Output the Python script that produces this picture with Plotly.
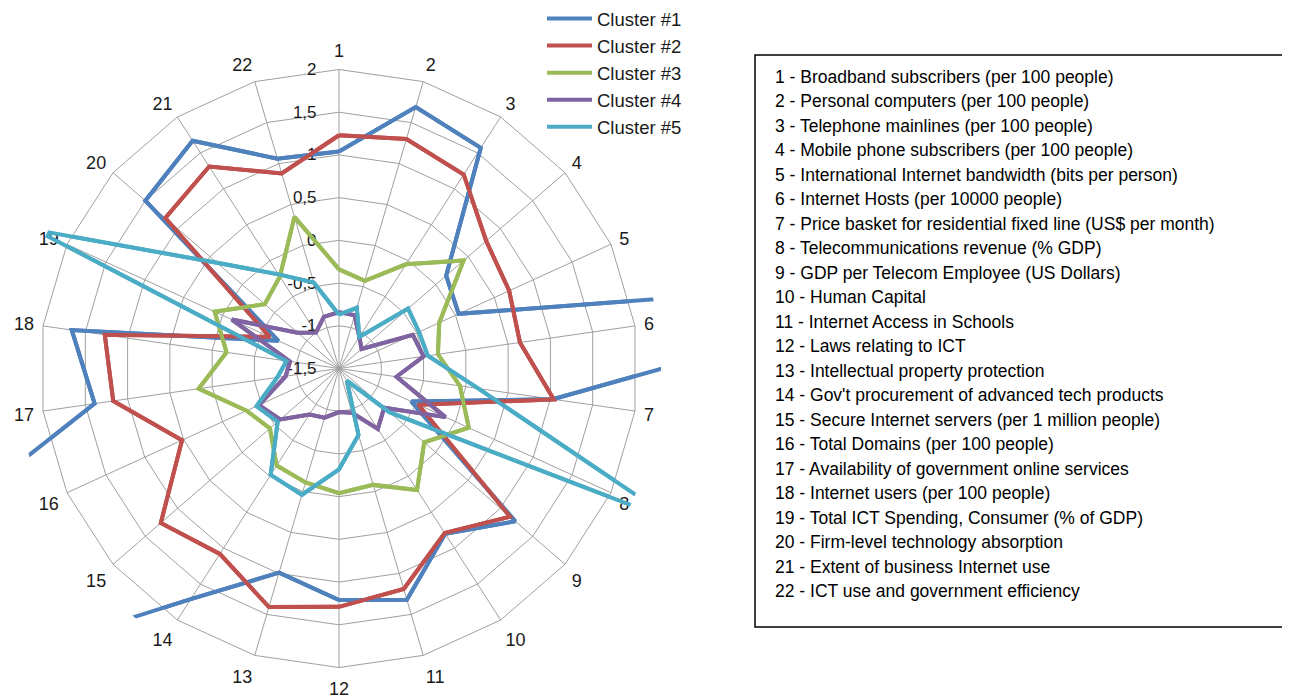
import plotly.graph_objects as go

# ---------------- data ----------------
categories = [str(i) for i in range(1, 23)]

cluster1 = [1.04, 1.69, 1.57, 0.16, 0.04, 6.3, 1.03, -0.57, 1.23, 0.80, 1.32,
            1.21, 0.99, 1.71, 3.67, 4.64, 1.39, 1.66, -0.72, 1.50, 1.67, 1.06]
cluster2 = [1.23, 1.30, 1.20, 0.78, 0.69, 0.64, 1.04, -0.48, 1.15, 0.79, 1.19,
            1.29, 1.41, 1.08, 1.26, 0.52, 1.17, 1.27, -0.61, 1.19, 1.31, 0.88]
cluster3 = [-0.34, -0.43, -0.05, 0.43, -0.21, -0.33, -0.07, 0.17, -0.18, 0.19, -0.08,
            -0.04, -0.11, -0.15, -0.43, -0.31, 0.16, -0.17, 0.10, -0.35, -0.22, 0.35]
cluster4 = [-0.84, -0.85, -1.06, -1.15, -0.55, -0.50, -0.82, -0.13, -0.80, -0.66, -0.96,
            -0.99, -0.90, -0.86, -0.59, -0.47, -0.87, -0.92, -0.12, -0.86, -1.00, -0.87]
cluster5 = [-0.87, -0.76, -1.06, -0.43, -0.47, -0.45, 0.15, 2.85, -0.72, -1.33, -0.69,
            -0.32, 0.04, -0.02, -0.55, -0.44, -0.77, -0.88, 2.40, 0.39, -0.19, -0.45]

series_names = ["Cluster #1", "Cluster #2", "Cluster #3", "Cluster #4", "Cluster #5"]
series_values = [cluster1, cluster2, cluster3, cluster4, cluster5]
colors = ["#4F81BD", "#C0504D", "#9BBB59", "#8064A2", "#4BACC6"]

radial_tickvals = [-1.5, -1, -0.5, 0, 0.5, 1, 1.5, 2]
radial_ticktext = ["-1,5", "-1", "-0,5", "0", "0,5", "1", "1,5", "2"]
r_min, r_max = -1.5, 2

descriptions = [
    "1 - Broadband subscribers (per 100 people)",
    "2 - Personal computers (per 100 people)",
    "3 - Telephone mainlines (per 100 people)",
    "4 - Mobile phone subscribers (per 100 people)",
    "5 - International Internet bandwidth (bits per person)",
    "6 - Internet Hosts (per 10000 people)",
    "7 - Price basket for residential fixed line (US$ per month)",
    "8 - Telecommunications revenue (% GDP)",
    "9 - GDP per Telecom Employee (US Dollars)",
    "10 - Human Capital",
    "11 - Internet Access in Schools",
    "12 - Laws relating to ICT",
    "13 - Intellectual property protection",
    "14 - Gov't procurement of advanced tech products",
    "15 - Secure Internet servers (per 1 million people)",
    "16 - Total Domains (per 100 people)",
    "17 - Availability of government online services",
    "18 - Internet users (per 100 people)",
    "19 - Total ICT Spending, Consumer (% of GDP)",
    "20 - Firm-level technology absorption",
    "21 - Extent of business Internet use",
    "22 - ICT use and government efficiency",
]

# ---------------- layout helpers ----------------
# the page places the figure 8 px in from the window's top-left corner
OFF = 8
W, H = 1290 - OFF, 699 - OFF
FONT = "Liberation Sans, Arial, sans-serif"
GRID = "#A0A0A0"

def px_x(x):
    return (x - OFF) / W

def px_y(y):
    return 1 - (y - OFF) / H

cx, cy, R = 339, 368.5, 299      # grid subplot (centre and outer ring radius)
R2 = 322                          # wider, invisible subplot for the series so
                                  # out-of-range values run past the outer ring
r_max2 = r_min + (r_max - r_min) * R2 / R

fig = go.Figure()
# series on the grid subplot (clipped at the outer ring) ...
for name, vals, col in zip(series_names, series_values, colors):
    fig.add_trace(go.Scatterpolar(
        r=vals + [vals[0]],
        theta=categories + [categories[0]],
        mode="lines",
        name=name,
        line=dict(color=col, width=4),
        subplot="polar",
        showlegend=False,
        hoverinfo="skip",
    ))
# ... and the same series on the overlaid, wider subplot (runs past the ring)
for name, vals, col in zip(series_names, series_values, colors):
    fig.add_trace(go.Scatterpolar(
        r=vals + [vals[0]],
        theta=categories + [categories[0]],
        mode="lines",
        name=name,
        line=dict(color=col, width=4),
        subplot="polar2",
    ))

hidden_angular = dict(direction="clockwise", rotation=90, type="category",
                      categoryorder="array", categoryarray=categories,
                      showgrid=False, showline=False, showticklabels=False, ticks="")
hidden_radial = dict(range=[r_min, r_max2], autorange=False, showgrid=False,
                     showline=False, showticklabels=False, ticks="")

fig.update_layout(
    width=W, height=H,
    margin=dict(l=0, r=0, t=0, b=0, autoexpand=False),
    paper_bgcolor="white",
    font=dict(family=FONT, color="#1a1a1a"),
    polar=dict(
        domain=dict(x=[px_x(cx - R), px_x(cx + R)], y=[px_y(cy + R), px_y(cy - R)]),
        bgcolor="white",
        gridshape="linear",
        angularaxis=dict(
            direction="clockwise",
            rotation=90,
            type="category",
            categoryorder="array",
            categoryarray=categories,
            showgrid=True, gridcolor=GRID, gridwidth=1,
            showline=True, linecolor=GRID, linewidth=1,
            ticks="outside", ticklen=5, tickcolor="rgba(0,0,0,0)",
            tickfont=dict(size=18, family=FONT, color="#1a1a1a"),
        ),
        radialaxis=dict(
            range=[r_min, r_max],
            autorange=False,
            angle=90,
            side="counterclockwise",
            tickmode="array",
            tickvals=radial_tickvals,
            ticktext=radial_ticktext,
            showgrid=True, gridcolor=GRID, gridwidth=1,
            showline=False,
            ticks="outside", ticklen=16, tickcolor="rgba(0,0,0,0)",
            tickangle=90,
            tickfont=dict(size=17, family=FONT, color="#1a1a1a"),
        ),
    ),
    polar2=dict(
        domain=dict(x=[px_x(cx - R2), px_x(cx + R2)], y=[px_y(cy + R2), px_y(cy - R2)]),
        bgcolor="rgba(0,0,0,0)",
        gridshape="circular",
        angularaxis=hidden_angular,
        radialaxis=hidden_radial,
    ),
    showlegend=True,
    legend=dict(
        x=px_x(542), y=px_y(0), xanchor="left", yanchor="top",
        font=dict(size=18.5, family=FONT, color="#1a1a1a"),
        bgcolor="rgba(0,0,0,0)",
        itemwidth=45,
        tracegroupgap=0,
    ),
)

# text box with descriptions
fig.add_shape(type="rect", xref="paper", yref="paper",
              x0=px_x(755), x1=px_x(1288), y0=px_y(627), y1=px_y(55),
              line=dict(color="#000000", width=1.5), fillcolor="rgba(0,0,0,0)")
line_step = 24.48
for i, txt in enumerate(descriptions):
    fig.add_annotation(xref="paper", yref="paper",
                       x=px_x(773), y=px_y(77 + i * line_step),
                       xanchor="left", yanchor="middle", showarrow=False,
                       text=txt, font=dict(size=17.5, family=FONT, color="#000000"))

fig.write_html("out.html")
